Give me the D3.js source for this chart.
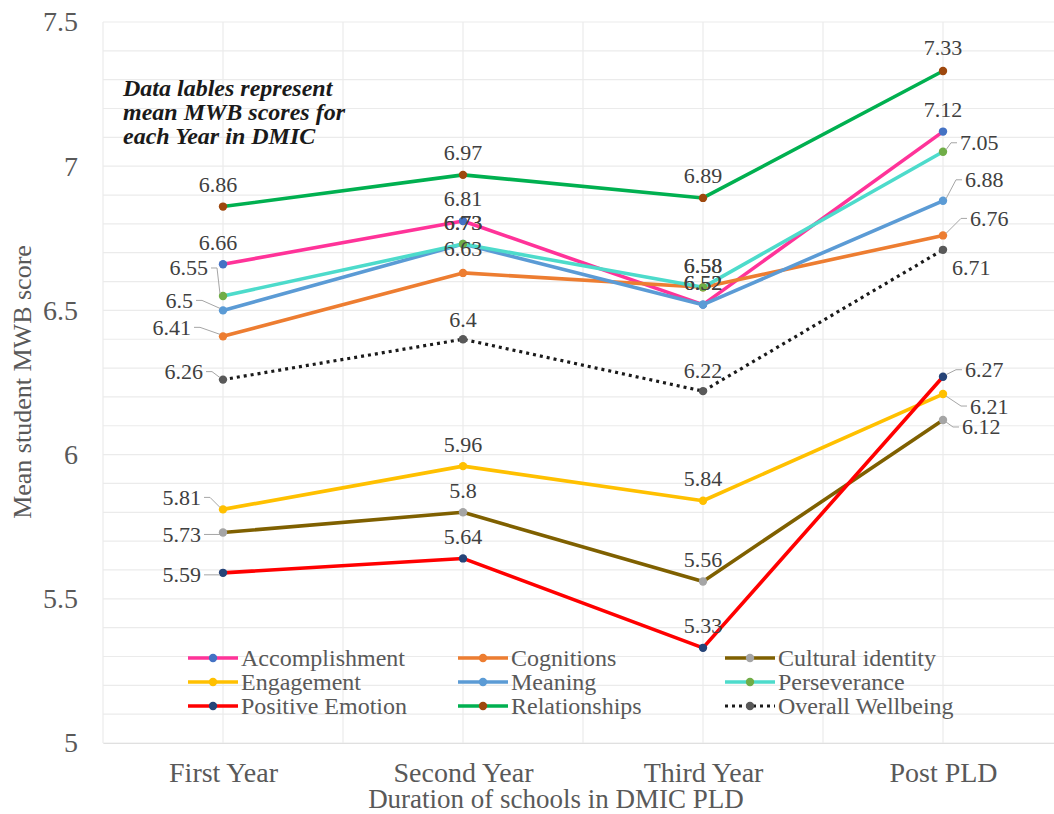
<!DOCTYPE html>
<html>
<head>
<meta charset="utf-8">
<script src="https://cdn.jsdelivr.net/npm/d3@7"></script>
<style>
  html, body { margin: 0; padding: 0; background: #fff; }
  svg { display: block; font-family: "Liberation Serif", "Times New Roman", serif; }
</style>
</head>
<body>
<svg id="chart" width="1054" height="814"></svg>
<script>
// Mean MWB scores by year of participation in the DMIC PLD
const years = ["First Year", "Second Year", "Third Year", "Post PLD"];
const seriesNames = ["Accomplishment", "Cognitions", "Cultural identity", "Engagement",
  "Meaning", "Perseverance", "Positive Emotion", "Relationships", "Overall Wellbeing"];

const accomplishment = [6.66, 6.81, 6.52, 7.12];
const cognitions     = [6.41, 6.63, 6.58, 6.76];
const culturalId     = [5.73, 5.80, 5.56, 6.12];
const engagement     = [5.81, 5.96, 5.84, 6.21];
const meaning        = [6.50, 6.73, 6.52, 6.88];
const perseverance   = [6.55, 6.73, 6.58, 7.05];
const positiveEmo    = [5.59, 5.64, 5.33, 6.27];
const relationships  = [6.86, 6.97, 6.89, 7.33];
const overall        = [6.26, 6.40, 6.22, 6.71];

const yTicks = [5, 5.5, 6, 6.5, 7, 7.5];

const seriesValues = [accomplishment, cognitions, culturalId, engagement, meaning,
  perseverance, positiveEmo, relationships, overall];

// line colour, marker colour, dotted flag
const styles = [
  { line: "#FF3399", dot: "#4472C4" },
  { line: "#ED7D31", dot: "#ED7D31" },
  { line: "#7F6000", dot: "#A5A5A5" },
  { line: "#FFC000", dot: "#FFC000" },
  { line: "#5B9BD5", dot: "#5B9BD5" },
  { line: "#4DDBCB", dot: "#70AD47" },
  { line: "#FF0000", dot: "#264478" },
  { line: "#00B050", dot: "#9E480E" },
  { line: "#1a1a1a", dot: "#595959", dotted: true }
];

// data label placement per series and year: [dx, dy, anchor, leader]
const A = "middle", S = "start", E = "end";
const labelPlacement = [
  [[-5, -22, A], [0, -22, A], [0, -22, A], [0, -22, A]],
  [[-32, -9, E, 1], [0, -24, A], [0, -22, A], [27, -17, S, 1]],
  [[-22, 2, E, 1], [0, -22, A], [0, -22, A], [19, 7, S, 1]],
  [[-22, -12, E, 1], [0, -22, A], [0, -22, A], [27, 12, S, 1]],
  [[-30, -10, E, 1], [0, -22, A], [0, -22, A], [22, -21, S, 1]],
  [[-15, -28, E, 1], [0, -22, A], [0, -22, A], [17, -9, S, 1]],
  [[-22, 2, E, 1], [0, -22, A], [0, -22, A], [22, -7, S, 1]],
  [[-5, -22, A], [0, -22, A], [0, -22, A], [0, -24, A]],
  [[-20, -8, E, 1], [0, -20, A], [0, -21, A], [9, 18, S]]
];

const svg = d3.select("#chart");
const plotLeft = 103, plotRight = 1063, plotTop = 22, plotBottom = 743;

const x = d3.scalePoint().domain(years).range([plotLeft, plotRight]).padding(0.5);
const y = d3.scaleLinear().domain([5, 7.5]).range([plotBottom, plotTop]);

const grid = svg.append("g");
// horizontal gridlines every 0.1
d3.range(0, 26).forEach(i => {
  const v = 5 + i * 0.1;
  grid.append("line")
    .attr("x1", plotLeft).attr("x2", plotRight)
    .attr("y1", y(v)).attr("y2", y(v))
    .attr("stroke", "#ebebeb").attr("stroke-width", 1.2);
});
// vertical gridlines at each year and between years
const step = x.step();
d3.range(0, 9).forEach(i => {
  const gx = plotLeft + i * step / 2;
  grid.append("line")
    .attr("x1", gx).attr("x2", gx)
    .attr("y1", plotTop).attr("y2", plotBottom)
    .attr("stroke", "#ebebeb").attr("stroke-width", 1.2);
});

// y axis tick labels
const yAxis = d3.axisLeft(y).tickValues(yTicks).tickSize(0).tickPadding(25)
  .tickFormat(d => String(d));
const yg = svg.append("g").attr("transform", `translate(${plotLeft},0)`).call(yAxis);
yg.select(".domain").remove();
yg.selectAll("text").attr("font-size", 28).attr("fill", "#595959")
  .attr("font-family", "Liberation Serif, serif");

// x axis category labels
const xAxis = d3.axisBottom(x).tickSize(0).tickPadding(19);
const xg = svg.append("g").attr("transform", `translate(0,${plotBottom})`).call(xAxis);
xg.select(".domain").attr("stroke", "#e0e0e0");
xg.selectAll("text").attr("font-size", 28).attr("fill", "#595959")
  .attr("font-family", "Liberation Serif, serif");

// axis titles
svg.append("text").attr("x", 556).attr("y", 808)
  .attr("text-anchor", "middle").attr("font-size", 27).attr("fill", "#595959")
  .text("Duration of schools in DMIC PLD");
svg.append("text")
  .attr("transform", "translate(31,382) rotate(-90)")
  .attr("text-anchor", "middle").attr("font-size", 26).attr("fill", "#595959")
  .text("Mean student MWB score");

// note
const note = svg.append("text").attr("x", 123).attr("y", 96)
  .attr("font-size", 24).attr("font-style", "italic").attr("font-weight", "bold")
  .attr("fill", "#1a1a1a");
["Data lables represent", "mean MWB scores for", "each Year in DMIC"].forEach((t, i) => {
  note.append("tspan").attr("x", 123).attr("dy", i === 0 ? 0 : 24).text(t);
});

// series lines and markers
const lineGen = d3.line().x((d, i) => x(years[i])).y(d => y(d));
const plot = svg.append("g");
seriesValues.forEach((vals, si) => {
  const st = styles[si];
  plot.append("path").datum(vals)
    .attr("d", lineGen)
    .attr("fill", "none")
    .attr("stroke", st.line)
    .attr("stroke-width", st.dotted ? 3.2 : 3.6)
    .attr("stroke-linejoin", "round")
    .attr("stroke-dasharray", st.dotted ? "3,4" : null);
  plot.selectAll(null).data(vals).enter().append("circle")
    .attr("cx", (d, i) => x(years[i])).attr("cy", d => y(d))
    .attr("r", 4.2).attr("fill", st.dot);
});

// data labels with leader lines
const labels = svg.append("g");
seriesValues.forEach((vals, si) => {
  vals.forEach((v, i) => {
    const [dx, dy, anchor, leader] = labelPlacement[si][i];
    const px = x(years[i]), py = y(v);
    const lx = px + dx, ly = py + dy;
    if (leader) {
      const sgn = anchor === E ? 1 : -1;
      const ax = lx + sgn * 3, bx = lx + sgn * 9;
      labels.append("polyline")
        .attr("points", `${ax},${ly} ${bx},${ly} ${px - sgn * 3},${py - Math.sign(py - ly) * 2}`)
        .attr("fill", "none").attr("stroke", "#a6a6a6").attr("stroke-width", 1);
    }
    labels.append("text")
      .attr("x", lx).attr("y", ly)
      .attr("text-anchor", anchor)
      .attr("dominant-baseline", "central")
      .attr("font-size", 22).attr("fill", "#404040")
      .text(String(+v.toFixed(2)));
  });
});

// legend
const legendCols = [188, 458, 725];
const legendRows = [658, 682, 706];
seriesNames.forEach((name, si) => {
  const st = styles[si];
  const lx = legendCols[si % 3], ly = legendRows[Math.floor(si / 3)];
  const g = svg.append("g");
  g.append("line").attr("x1", lx).attr("x2", lx + 50).attr("y1", ly).attr("y2", ly)
    .attr("stroke", st.line).attr("stroke-width", st.dotted ? 3.2 : 3.6)
    .attr("stroke-dasharray", st.dotted ? "3,4" : null);
  g.append("circle").attr("cx", lx + 25).attr("cy", ly).attr("r", 4.2).attr("fill", st.dot);
  g.append("text").attr("x", lx + 53).attr("y", ly)
    .attr("dominant-baseline", "central")
    .attr("font-size", 24).attr("fill", "#595959").text(name);
});
</script>
</body>
</html>
